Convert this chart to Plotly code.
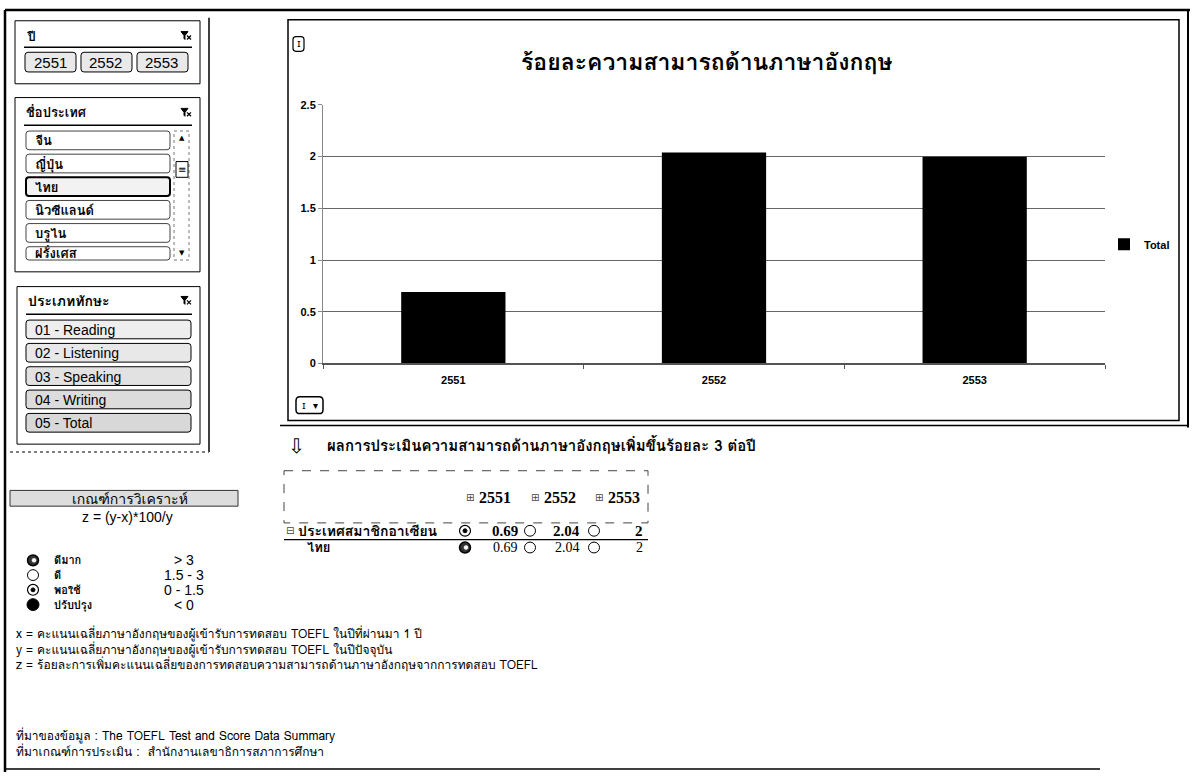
import plotly.graph_objects as go

W, H = 1198, 778

# ---- data ----
years = ["2551", "2552", "2553"]
total_pct = [0.69, 2.04, 2.0]
series_name = "Total"

countries = ["จีน", "ญี่ปุ่น", "ไทย", "นิวซีแลนด์", "บรูไน", "ฝรั่งเศส"]
selected_country = "ไทย"
skills = ["01 - Reading", "02 - Listening", "03 - Speaking", "04 - Writing", "05 - Total"]

group_name = "ประเทศสมาชิกอาเซียน"
level_names = ["ดีมาก", "ดี", "พอใช้", "ปรับปรุง"]
level_ranges = ["> 3", "1.5 - 3", "0 - 1.5", "< 0"]

notes = [
    "x = คะแนนเฉลี่ยภาษาอังกฤษของผู้เข้ารับการทดสอบ TOEFL ในปีที่ผ่านมา 1 ปี",
    "y = คะแนนเฉลี่ยภาษาอังกฤษของผู้เข้ารับการทดสอบ TOEFL ในปีปัจจุบัน",
    "z = ร้อยละการเพิ่มคะแนนเฉลี่ยของการทดสอบความสามารถด้านภาษาอังกฤษจากการทดสอบ TOEFL",
]
sources = [
    "ที่มาของข้อมูล : The TOEFL Test and Score Data Summary",
    "ที่มาเกณฑ์การประเมิน :  สำนักงานเลขาธิการสภาการศึกษา",
]

THAI = "Loma, Tahoma, 'Noto Sans Thai', 'DejaVu Sans', sans-serif"
LAT = "'Liberation Sans', Arial, sans-serif"
SERIF = "'Liberation Serif', 'Times New Roman', serif"
SYM = "'DejaVu Sans', sans-serif"


def X(p):
    return p / W


def Y(p):
    return 1 - p / H


shapes = []
annotations = []


def line(x0, y0, x1, y1, color="black", width=1, dash=None):
    d = dict(type="line", xref="paper", yref="paper",
             x0=X(x0), y0=Y(y0), x1=X(x1), y1=Y(y1),
             line=dict(color=color, width=width))
    if dash:
        d["line"]["dash"] = dash
    shapes.append(d)


def rect(x0, y0, x1, y1, color="black", width=1, fill=None, dash=None):
    d = dict(type="rect", xref="paper", yref="paper",
             x0=X(x0), y0=Y(y0), x1=X(x1), y1=Y(y1),
             line=dict(color=color, width=width),
             fillcolor=fill if fill else "rgba(0,0,0,0)")
    if dash:
        d["line"]["dash"] = dash
    shapes.append(d)


def rrect(x0, y0, x1, y1, r=3, color="black", width=1, fill=None):
    pts = lambda a, b: f"{X(a):.5f},{Y(b):.5f}"
    path = (f"M{pts(x0 + r, y0)} L{pts(x1 - r, y0)} Q{pts(x1, y0)} {pts(x1, y0 + r)} "
            f"L{pts(x1, y1 - r)} Q{pts(x1, y1)} {pts(x1 - r, y1)} "
            f"L{pts(x0 + r, y1)} Q{pts(x0, y1)} {pts(x0, y1 - r)} "
            f"L{pts(x0, y0 + r)} Q{pts(x0, y0)} {pts(x0 + r, y0)} Z")
    shapes.append(dict(type="path", xref="paper", yref="paper", path=path,
                       line=dict(color=color, width=width),
                       fillcolor=fill if fill else "rgba(0,0,0,0)"))


def circle(cx, cy, r, color="black", width=1, fill=None):
    shapes.append(dict(type="circle", xref="paper", yref="paper",
                       x0=X(cx - r), y0=Y(cy + r), x1=X(cx + r), y1=Y(cy - r),
                       line=dict(color=color, width=width),
                       fillcolor=fill if fill else "rgba(0,0,0,0)"))


def text(x, y, s, size=12, bold=False, xanchor="left", family=THAI, color="black"):
    if bold:
        s = f"<b>{s}</b>"
    annotations.append(dict(x=X(x), y=Y(y), xref="paper", yref="paper", text=s,
                            showarrow=False, xanchor=xanchor, yanchor="middle", align="left",
                            font=dict(size=size, family=family, color=color)))


def clear_filter_icon(x, y):
    # small funnel with a cross
    path = (f"M{X(x - 5):.5f},{Y(y - 4):.5f} L{X(x + 2):.5f},{Y(y - 4):.5f} "
            f"L{X(x - 1):.5f},{Y(y):.5f} L{X(x - 1):.5f},{Y(y + 4):.5f} "
            f"L{X(x - 2):.5f},{Y(y + 3):.5f} L{X(x - 2):.5f},{Y(y):.5f} Z")
    shapes.append(dict(type="path", xref="paper", yref="paper", path=path,
                       line=dict(color="black", width=1), fillcolor="black"))
    line(x + 1, y + 0, x + 5, y + 4, width=1.2)
    line(x + 5, y + 0, x + 1, y + 4, width=1.2)


def level_icon(cx, cy, kind):
    if kind == 0:      # ดีมาก
        circle(cx, cy, 5.5, width=1.5, fill="#333")
        circle(cx + 1, cy, 2, color="white", width=0.5, fill="white")
    elif kind == 1:    # ดี
        circle(cx, cy, 5.5, width=1, fill="white")
    elif kind == 2:    # พอใช้
        circle(cx, cy, 5.5, width=1.2, fill="white")
        circle(cx, cy, 2, width=1, fill="black")
    else:              # ปรับปรุง
        circle(cx, cy, 6, width=1, fill="black")


def level_of(z):
    if z > 3:
        return 0
    if z >= 1.5:
        return 1
    if z >= 0:
        return 2
    return 3


# ---- page frame ----
line(5, 4, 1190, 4, width=2.5)
line(5, 4, 5, 778, width=2.5)
line(1188, 4, 1188, 428, width=2)
line(5, 775, 1100, 775, width=1.5)

# ---- left panel: slicers ----
line(209, 12, 209, 453, width=1.5)
line(10, 453, 209, 453, color="#555", width=1.5, dash="dot")

# year slicer
rect(15, 15, 200, 79, width=1)
text(24, 31, "ปี", size=13, bold=True)
clear_filter_icon(186, 30)
line(24, 42, 192, 42, width=1.5)
for i, yr in enumerate(years):
    x0 = 25 + i * 56
    rrect(x0, 47, x0 + 51, 67, r=3, fill="#e9e9e9")
    text(x0 + 25, 57.5, yr, size=15, xanchor="center", family=LAT)

# country slicer
rect(15, 93, 200, 270, width=1)
text(24, 108, "ชื่อประเทศ", size=13, bold=True)
clear_filter_icon(186, 108)
line(24, 121, 192, 121, width=1.5)
for i, c in enumerate(countries):
    y0 = 127 + i * 23.5
    y1 = min(y0 + 19, 258)
    sel = c == selected_country
    rrect(26, y0, 170, y1, r=3, width=2 if sel else 1, color="black" if sel else "#444",
          fill="#f2f2f2" if sel else "white")
    text(33, (y0 + y1) / 2 + 0.5, c, size=13, bold=True)
rect(174, 127, 189, 258, color="#777", width=1, dash="dot")
text(181.5, 134, "▲", size=7, xanchor="center", family=SYM)
text(181.5, 251, "▼", size=7, xanchor="center", family=SYM)
rect(176, 158, 188, 174, width=1, fill="white")
text(182, 166, "≡", size=10, xanchor="center", family=SYM)

# skill slicer
rect(17, 285, 200, 445, width=1)
text(26, 300, "ประเภททักษะ", size=14, bold=True)
clear_filter_icon(186, 299)
line(26, 313, 192, 313, width=1.5)
skill_fill = ["#eeeeee", "#e8e8e8", "#e2e2e2", "#dcdcdc", "#d8d8d8"]
for i, s in enumerate(skills):
    y0 = 319 + i * 23.7
    rrect(26, y0, 191, y0 + 19, r=3, fill=skill_fill[i])
    text(33, y0 + 10, s, size=14, family=LAT)

# ---- criteria legend ----
rect(10, 492, 238, 508, color="#333", width=1, fill="#dddddd")
text(130, 500.5, "เกณฑ์การวิเคราะห์", size=14, xanchor="center")
text(127, 519, "z = (y-x)*100/y", size=14, xanchor="center", family=LAT)
level_y = [563, 578, 593, 608]
for i, (nm, rg) in enumerate(zip(level_names, level_ranges)):
    level_icon(33, level_y[i], i)
    text(52, level_y[i], nm, size=11, bold=True)
    text(184, level_y[i], rg, size=14, xanchor="center", family=LAT)

text(14, 653, "<br>".join(notes), size=12)
text(14, 749.5, "<br>".join(sources), size=12)

# ---- chart frame and decorations ----
rect(288, 14, 1179, 421, width=1.5)
line(280, 426, 1188, 426, width=1.5)
rrect(293, 31, 304, 46, r=3, width=1.2)
text(298.5, 38.5, "ɪ", size=10, xanchor="center", family=SYM)
rrect(296, 397, 323, 414, r=4, width=1.5)
text(304, 405.5, "ɪ", size=10, xanchor="center", family=SYM)
text(315, 406, "▾", size=10, xanchor="center", family=SYM)
text(707, 57, "ร้อยละความสามารถด้านภาษาอังกฤษ", size=23, bold=True, xanchor="center")

# ---- result statement ----
text(296, 447, "⇩", size=20, xanchor="center", family=SYM)
text(325, 447, "ผลการประเมินความสามารถด้านภาษาอังกฤษเพิ่มขึ้นร้อยละ 3 ต่อปี", size=15, bold=True)

# ---- pivot table ----
rect(284, 472, 648, 525, color="#444", width=1, dash="dash")
col_icon_x = [470, 535, 599]
col_right = [520, 582, 645]
for i, yr in enumerate(years):
    text(col_icon_x[i], 499, "⊞", size=10, xanchor="center", family=SYM, color="#444")
    text(col_icon_x[i] + 7, 499, yr, size=16, bold=True, family=SERIF)

fmt = lambda v: f"{v:g}"
row_y = [533, 550]
text(284, row_y[0], "⊟", size=10, family=SYM, color="#444")
text(296, row_y[0], group_name, size=14, bold=True)
text(305, row_y[1], selected_country, size=13, bold=True)
line(284, 542, 648, 542, width=1.2)
for r, yy in enumerate(row_y):
    for i, v in enumerate(total_pct):
        kind = level_of(v)
        if i == 0:
            kind = 2 if r == 0 else 0
        level_icon(col_icon_x[i] - 5, yy, kind)
        text(col_right[i], yy, fmt(v), size=15 if r == 0 else 14, bold=(r == 0),
             xanchor="right", family=SERIF)

# ---- bar chart ----
fig = go.Figure()
fig.add_trace(go.Bar(x=years, y=total_pct, name=series_name,
                     marker=dict(color="black", line=dict(color="black", width=0)),
                     showlegend=True))

fig.update_layout(
    width=W, height=H,
    margin=dict(l=0, r=0, t=0, b=0),
    paper_bgcolor="white", plot_bgcolor="white",
    bargap=0.6,
    shapes=shapes,
    annotations=annotations,
    showlegend=True,
    legend=dict(x=X(1104), y=Y(242), xanchor="left", yanchor="middle",
                font=dict(size=11, family=LAT, color="black", weight="bold"),
                bgcolor="rgba(0,0,0,0)", itemwidth=30),
    xaxis=dict(domain=[X(323), X(1105)], type="category",
               showline=True, linecolor="#555", linewidth=1.5,
               ticks="outside", tickson="boundaries", ticklen=4, tickcolor="#555",
               ticklabelstandoff=6,
               tickfont=dict(size=11, family=LAT, color="black", weight="bold"),
               showgrid=False),
    yaxis=dict(domain=[Y(363), Y(100.5)], range=[0, 2.5],
               tickvals=[0, 0.5, 1, 1.5, 2, 2.5], ticktext=["0", "0.5", "1", "1.5", "2", "2.5"],
               showline=True, linecolor="#888", linewidth=1,
               ticks="outside", ticklen=4, tickcolor="#888",
               showgrid=True, gridcolor="#666", gridwidth=1.2,
               zeroline=False,
               tickfont=dict(size=11, family=LAT, color="black", weight="bold")),
)

fig.write_html("out.html")
